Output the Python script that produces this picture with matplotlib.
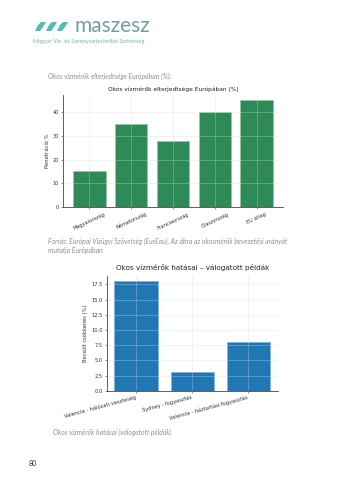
import matplotlib
matplotlib.use("Agg")
import matplotlib.pyplot as plt
from matplotlib.patches import Polygon

# Data
countries = ["Magyarország", "Németország", "Franciaország", "Olaszország", "EU átlag"]
penetration = [15, 35, 28, 40, 45]
cases = ["Valencia - hálózati veszteség", "Sydney - fogyasztás", "Valencia - háztartási fogyasztás"]
reduction = [18, 3, 8]

W, H = 339, 480
fig = plt.figure(figsize=(W / 100, H / 100), dpi=100)
fig.patch.set_facecolor("white")

def fx(px):
    return px / W

def fy(py):
    return 1 - py / H

# Logo
teal = "#4dbdb5"
for i in range(3):
    x0 = 35 + i * 11
    pts = [(x0, 31), (x0 + 3, 25), (x0 + 6, 22), (x0 + 11, 22), (x0 + 8, 27), (x0 + 5, 31)]
    fig.patches.append(Polygon([(fx(a), fy(b)) for a, b in pts], closed=True,
                               transform=fig.transFigure, facecolor=teal, edgecolor="none"))
fig.text(fx(75), fy(26), "maszesz", fontsize=15, color="#6f9fa4", family="Lato",
         va="center", ha="left")
fig.text(fx(33), fy(41.5), "Magyar Víz- és Szennyvíztechnikai Szövetség", fontsize=4.1,
         color="#5cbcb4", family="Lato", va="center", ha="left")

cap_kw = dict(fontsize=4.9, color="#8f8f8f", family="Lato", style="italic", ha="left", va="center")
fig.text(fx(48), fy(76), "Okos vízmérők elterjedtsége Európában (%):", **cap_kw)
fig.text(fx(48), fy(241), "Forrás: Európai Vízügyi Szövetség (EurEau). Az ábra az okosmérők bevezetési arányát", **cap_kw)
fig.text(fx(48), fy(250), "mutatja Európában", **cap_kw)
fig.text(fx(53), fy(432), "Okos vízmérők hatásai (válogatott példák)", **cap_kw)
fig.text(fx(29), fy(463), "80", fontsize=5, color="#333333", family="Lato", ha="left", va="center")

def style_ax(ax, fs):
    for s in ["top", "right"]:
        ax.spines[s].set_visible(False)
    for s in ["left", "bottom"]:
        ax.spines[s].set_color("#444444")
        ax.spines[s].set_linewidth(0.6)
    ax.grid(True, color="#d9d9d9", linewidth=0.5, alpha=0.45)
    ax.set_axisbelow(False)
    ax.tick_params(labelsize=fs, colors="#333333", length=1.5, width=0.4, pad=1.5)

# Chart 1
ax1 = fig.add_axes([fx(63), fy(207), fx(283) - fx(63), fy(95) - fy(207)])
ax1.bar(countries, penetration, width=0.78, color="#2e8b57", edgecolor="#8fc9a3", linewidth=0.5)
ax1.set_ylim(0, 47.25)
ax1.set_yticks([0, 10, 20, 30, 40])
style_ax(ax1, 3.6)
ax1.set_xticks(range(len(countries)))
ax1.set_xticklabels(countries, rotation=25, ha="center")
ax1.set_ylabel("Penetráció %", fontsize=3.8, color="#333333", labelpad=2)
ax1.set_title("Okos vízmérők elterjedtsége Európában (%)", fontsize=4.2, color="#222222", pad=3)

# Chart 2
ax2 = fig.add_axes([fx(106.7), fy(390.7), fx(278) - fx(106.7), fy(275.8) - fy(390.7)])
ax2.bar(cases, reduction, width=0.78, color="#1f77b4", edgecolor="#7fb2d8", linewidth=0.5)
ax2.set_ylim(0, 18.9)
ax2.set_yticks([0, 2.5, 5, 7.5, 10, 12.5, 15, 17.5])
ax2.set_yticklabels(["0.0", "2.5", "5.0", "7.5", "10.0", "12.5", "15.0", "17.5"])
style_ax(ax2, 3.7)
ax2.set_xticks(range(len(cases)))
ax2.set_xticklabels(cases, rotation=15, ha="right")
ax2.set_ylabel("Becsült csökkenés (%)", fontsize=3.7, color="#333333", labelpad=2)
ax2.set_title("Okos vízmérők hatásai – válogatott példák", fontsize=5.2, color="#222222", pad=4)

fig.savefig("out.png", dpi=100, facecolor="white")
